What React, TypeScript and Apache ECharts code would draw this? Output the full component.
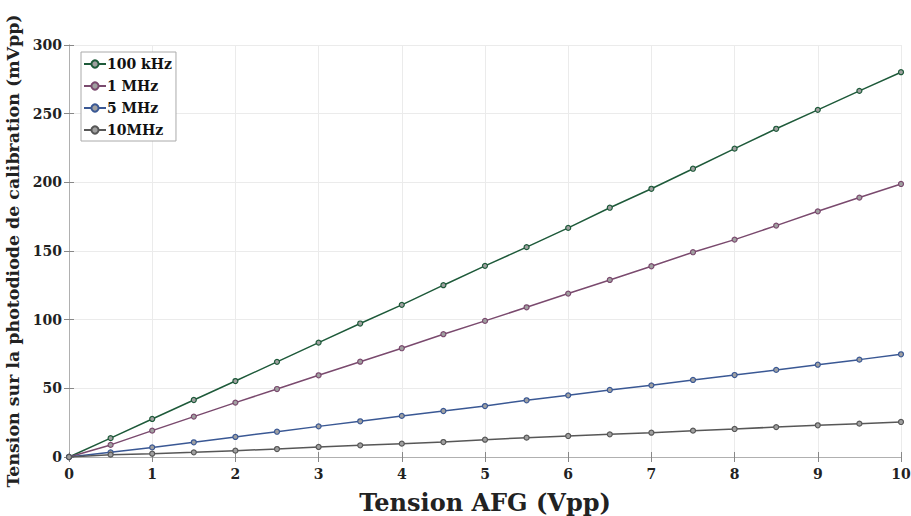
import React, { useEffect, useRef } from "react";
import * as echarts from "echarts";

const xValues = [0, 0.5, 1, 1.5, 2, 2.5, 3, 3.5, 4, 4.5, 5, 5.5, 6, 6.5, 7, 7.5, 8, 8.5, 9, 9.5, 10];
const s100k = [0, 13.7, 27.7, 41.5, 55.3, 69.3, 83.3, 97.2, 110.8, 125.1, 139.2, 152.8, 166.8, 181.5, 195.3, 209.9, 224.5, 239.0, 252.8, 266.6, 280.2];
const s1M = [0, 8.8, 19.2, 29.4, 39.6, 49.5, 59.5, 69.4, 79.2, 89.4, 99.1, 109.0, 119.0, 128.9, 138.9, 149.1, 158.3, 168.5, 178.9, 188.9, 198.8];
const s5M = [0, 3.4, 7.0, 10.7, 14.6, 18.4, 22.3, 26.0, 29.9, 33.5, 37.1, 41.3, 44.9, 48.8, 52.2, 56.1, 59.7, 63.4, 67.2, 70.9, 74.8];
const s10M = [0, 1.7, 2.4, 3.4, 4.6, 5.8, 7.3, 8.5, 9.7, 10.9, 12.6, 14.1, 15.3, 16.5, 17.7, 19.2, 20.4, 21.8, 23.1, 24.3, 25.5];
const seriesNames = ["100 kHz", "1 MHz", "5 MHz", "10MHz"];
const seriesColors = ["#1e5a3a", "#7a4a6e", "#3a5894", "#575757"];

const FONT = "'DejaVu Serif', 'Liberation Serif', serif";

export default function App() {
  const ref = useRef<HTMLDivElement>(null);
  useEffect(() => {
    if (!ref.current) return;
    const chart = echarts.init(ref.current, null, { renderer: "svg" });
    const all = [s100k, s1M, s5M, s10M];
    const axisLine = { show: true, lineStyle: { color: "#b0b0b0", width: 1 } };
    const axisTick = { show: true, inside: true, length: 5, lineStyle: { color: "#888" } };
    chart.setOption({
      animation: false,
      backgroundColor: "#ffffff",
      grid: { left: 69, right: 10, top: 45, bottom: 59, containLabel: false, outerBoundsMode: "none" },
      legend: {
        show: true,
        left: 81,
        top: 52,
        orient: "vertical",
        data: seriesNames,
        backgroundColor: "#ffffff",
        borderColor: "#aaaaaa",
        borderWidth: 1,
        borderRadius: 0,
        padding: [5, 4, 4, 2],
        itemGap: 8,
        itemWidth: 22,
        itemHeight: 9,
        textStyle: { fontFamily: FONT, fontWeight: "bold", fontSize: 14, lineHeight: 13, color: "#111", padding: [0, 0, 0, -4] },
      },
      xAxis: [
        {
          type: "value",
          min: 0,
          max: 10,
          interval: 1,
          axisLine,
          axisTick,
          axisLabel: { fontFamily: FONT, fontWeight: "bold", fontSize: 14, color: "#222", margin: 10 },
          splitLine: { show: true, lineStyle: { color: "#ebebeb" } },
          name: "Tension AFG (Vpp)",
          nameLocation: "middle",
          nameGap: 33,
          nameTextStyle: { fontFamily: FONT, fontWeight: "bold", fontSize: 24, color: "#222" },
        },
        {
          type: "value",
          position: "top",
          min: 0,
          max: 10,
          interval: 1,
          axisLine,
          axisTick,
          axisLabel: { show: false },
          splitLine: { show: false },
        },
      ],
      yAxis: [
        {
          type: "value",
          min: 0,
          max: 300,
          interval: 50,
          axisLine,
          axisTick,
          axisLabel: { fontFamily: FONT, fontWeight: "bold", fontSize: 14, color: "#222", margin: 7 },
          splitLine: { show: true, lineStyle: { color: "#ebebeb" } },
          name: "Tension sur la photodiode de calibration (mVpp)",
          nameLocation: "middle",
          nameGap: 42,
          nameTextStyle: { fontFamily: FONT, fontWeight: "bold", fontSize: 17.4, color: "#222" },
        },
        {
          type: "value",
          position: "right",
          min: 0,
          max: 300,
          interval: 50,
          axisLine,
          axisTick,
          axisLabel: { show: false },
          splitLine: { show: false },
        },
      ],
      series: seriesNames.map((name, i) => ({
        name,
        type: "line",
        data: xValues.map((x, j) => [x, all[i][j]]),
        symbol: "circle",
        symbolSize: 5,
        showSymbol: true,
        lineStyle: { color: seriesColors[i], width: 1.5 },
        itemStyle: { color: "#a0a0a0", borderColor: seriesColors[i], borderWidth: 1.2 },
        color: seriesColors[i],
      })),
    });
    return () => chart.dispose();
  }, []);
  return <div ref={ref} style={{ width: 911, height: 516, position: "absolute", left: 0, top: 0 }} />;
}
